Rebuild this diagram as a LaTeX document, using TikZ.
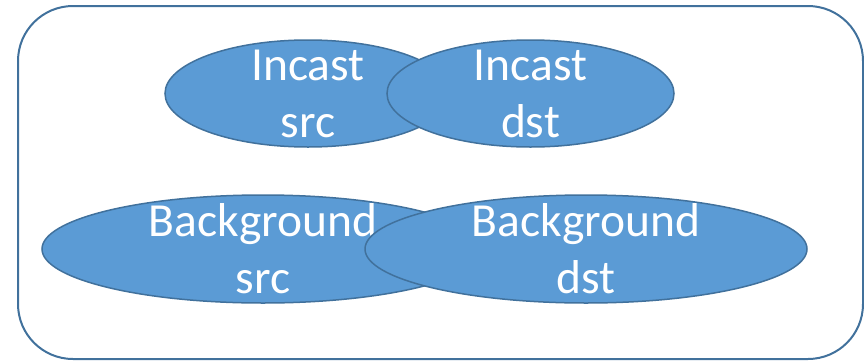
\documentclass[tikz,border=0pt]{standalone}
\usepackage{fontspec}
\setmainfont{Carlito}
\usetikzlibrary{shapes.geometric}
\definecolor{fillblue}{HTML}{5B9BD5}
\definecolor{edgeblue}{HTML}{41719C}
\tikzset{
  blob/.style={ellipse, draw=edgeblue, line width=1.5pt, fill=fillblue, inner sep=0pt},
  lbl/.style={text=white, align=center, inner sep=0pt, font=\fontsize{47.5}{57}\selectfont},
  frame/.style={draw=edgeblue, line width=2pt, rounded corners=55pt}
}
\begin{document}
\begin{tikzpicture}[x=1pt,y=-1pt]
\useasboundingbox (0,0) rectangle (864,362);
\draw[frame] (18,6) rectangle (863,359);
\node[blob, minimum width=286pt, minimum height=107pt] (isrc) at (308,93.5) {};
\node[lbl] (isrct) at (isrc.center) {Incast\\src};
\node[blob, minimum width=287pt, minimum height=107pt] (idst) at (530.5,93.5) {};
\node[lbl] (idstt) at (idst.center) {Incast\\dst};
\node[blob, minimum width=442pt, minimum height=108pt] (bsrc) at (263,249) {};
\node[lbl] (bsrct) at (bsrc.center) {Background\\src};
\node[blob, minimum width=442pt, minimum height=108pt] (bdst) at (586,249) {};
\node[lbl] (bdstt) at (bdst.center) {Background\\dst};
\end{tikzpicture}
\end{document}
